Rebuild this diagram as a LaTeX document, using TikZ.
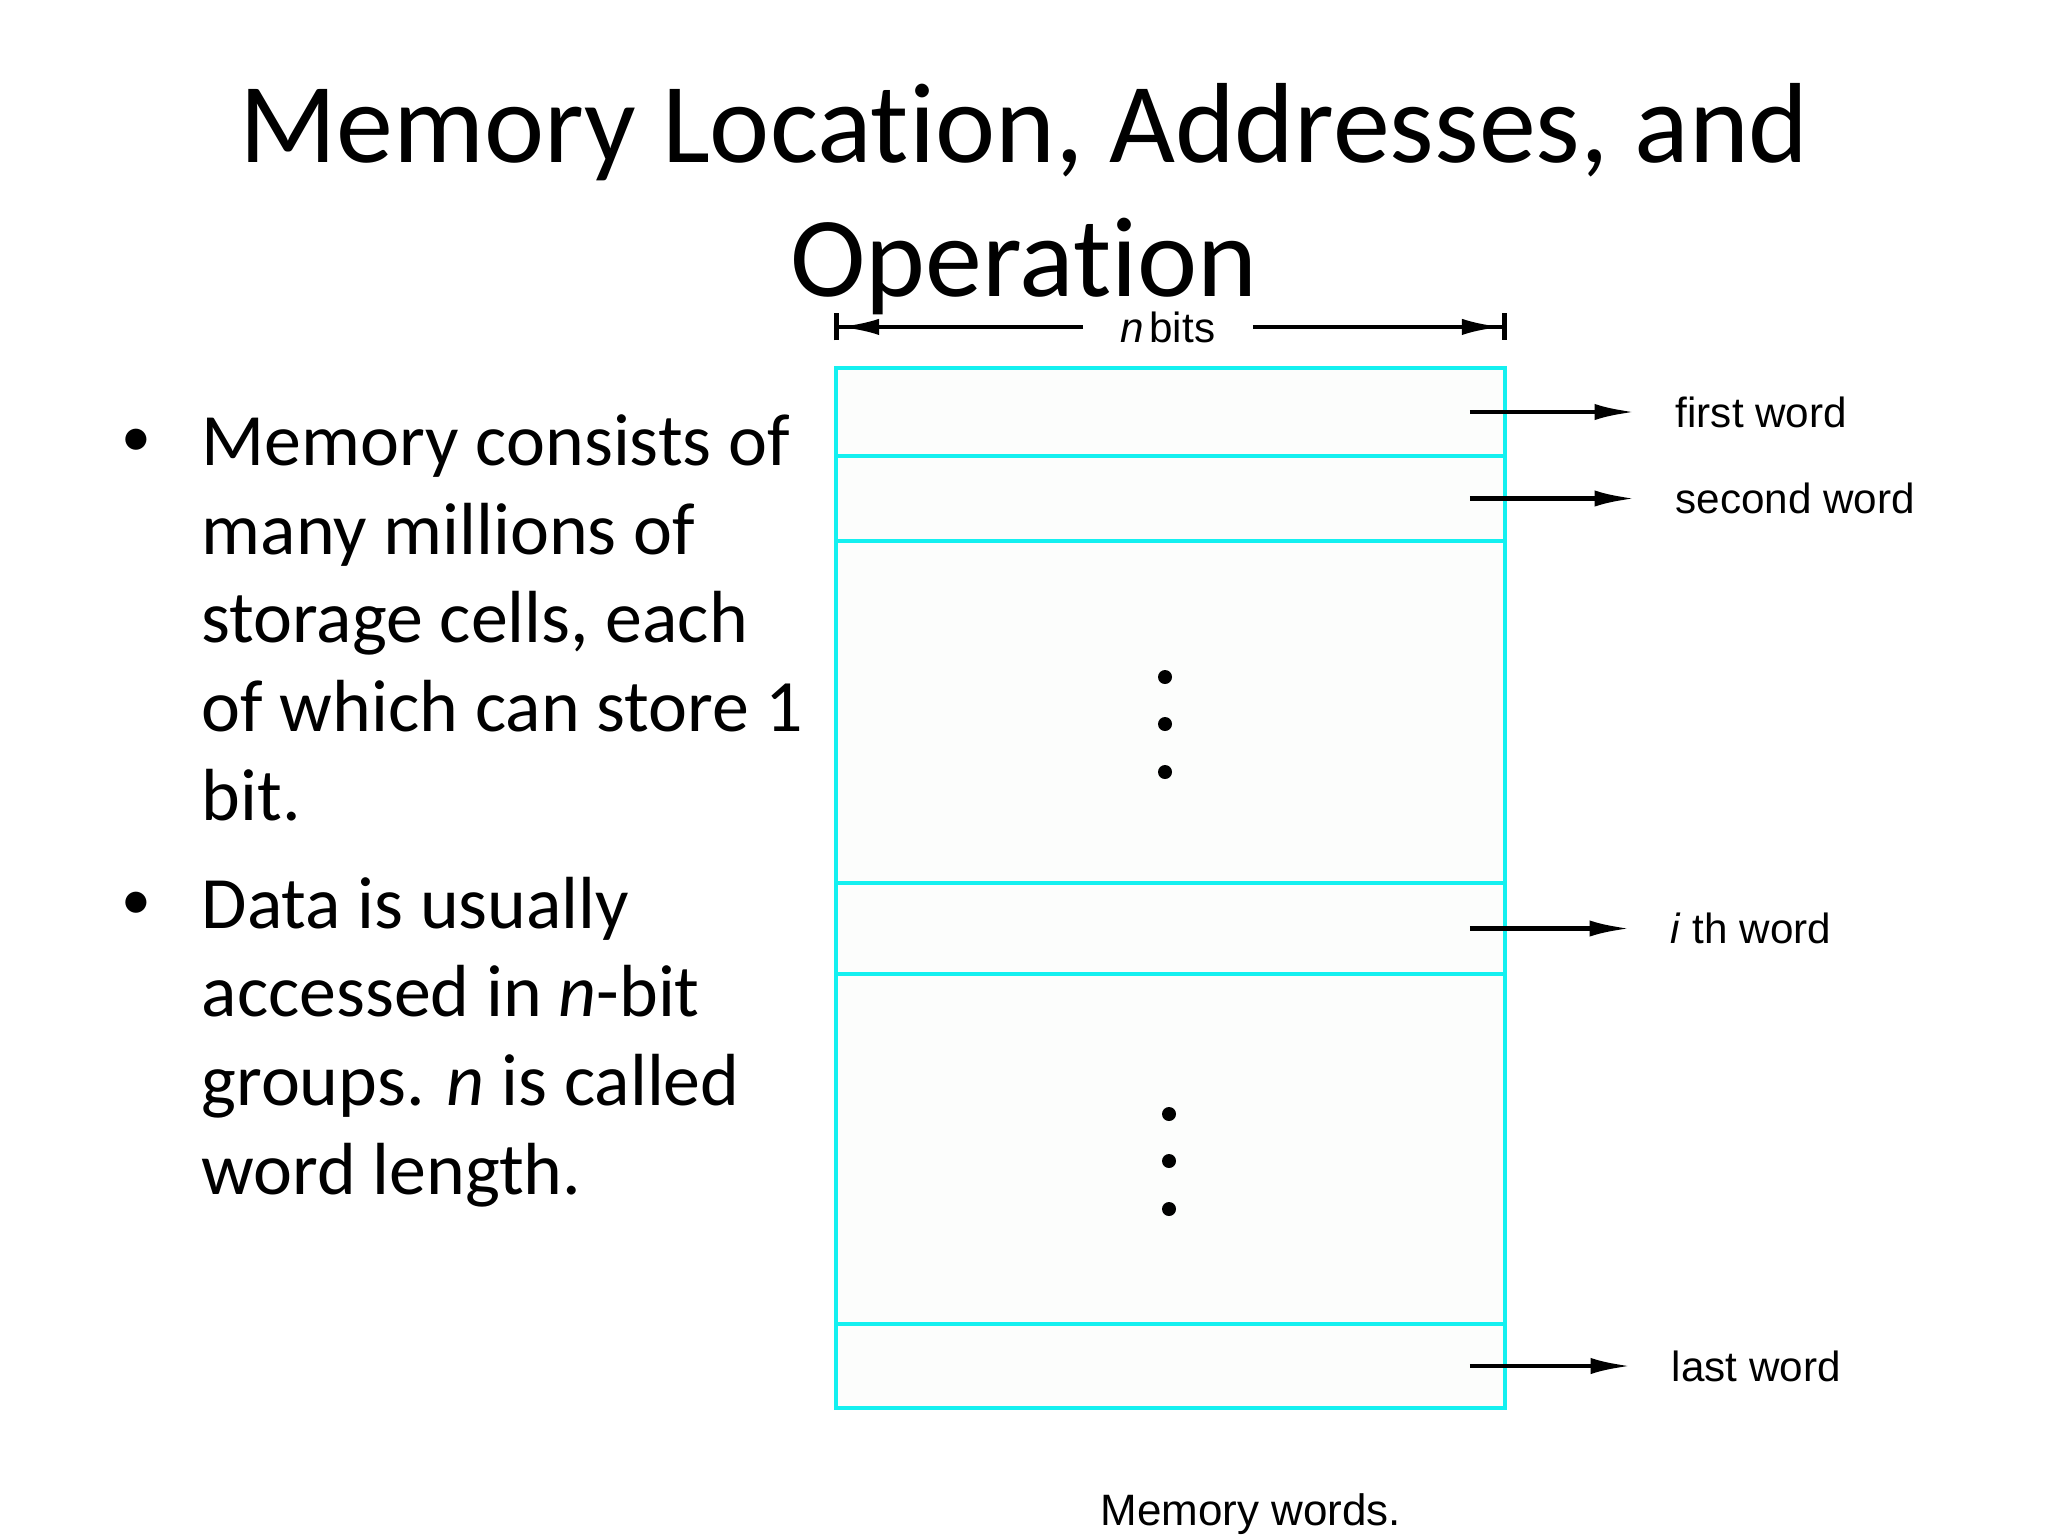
\documentclass[tikz,border=0pt]{standalone}
\usepackage{fontspec}
\setmainfont{Carlito}[Ligatures=NoCommon]
\newfontfamily\labelfont{Liberation Sans}[Ligatures=NoCommon]
\usetikzlibrary{positioning,fit,arrows.meta}

\definecolor{cellcyan}{RGB}{20,240,240}
\definecolor{cellfill}{RGB}{252,253,252}

\tikzset{
  cell/.style={draw=cellcyan, line width=1.1pt, fill=cellfill, inner sep=0pt},
  wlabel/.style={font=\labelfont\fontsize{12}{14}\selectfont, inner sep=0pt},
  ptr/.style={-{Latex[length=11.5pt,width=4.6pt]}, line width=1.3pt, shorten >=0.40cm},
  span/.style={-{Latex[length=11.5pt,width=4.6pt]Bar[width=7.7pt]}, line width=1.3pt, shorten <=0.37cm},
  bulletbody/.style={font=\fontsize{21}{25.2}\selectfont, align=left, inner sep=0pt, anchor=base west},
  bulletdot/.style={font=\fontsize{17}{20}\selectfont, inner sep=0pt, anchor=base},
}

\begin{document}
\begin{tikzpicture}[x=0.01cm, y=-0.01cm]
  \fill[white] (0,0) rectangle (2048,1536);
  \useasboundingbox (0,0) rectangle (2048,1536);

  % title
  \node[font=\fontsize{32.4}{38}\selectfont, align=center, anchor=base, inner sep=0pt] (title) at (1024,296)
    {Memory Location, Addresses, and\\Operation};

  % bullet text
  \node[bulletdot] (d1) at (136,456) {\textbullet};
  \node[bulletbody] (b1) at (201,820) {Memory consists of\\many millions of\\storage cells, each\\of which can store 1\\bit.};
  \node[bulletdot] (d2) at (136,919) {\textbullet};
  \node[bulletbody] (b2) at (201,1194) {Data is usually\\accessed in \textit{n}-bit\\groups. \textit{n} is called\\word length.};

  % memory rows
  \foreach \top/\bot/\name in {368/456/r1, 456/541/r2, 541/883/g1, 883/974/ri, 974/1324/g2, 1324/1408/rl}
    \node[cell, fit={(836,\top) (1505,\bot)}] (\name) {};

  \foreach \y in {677,724,772} \fill (1165,\y) circle[radius=0.07cm];
  \foreach \y in {1114,1161,1209} \fill (1169,\y) circle[radius=0.07cm];

  % n bits
  \node[wlabel, anchor=base] (nb) at (1168,342) {\textit{n}\hspace{0.12em}bits};
  \draw[span] (nb) -- (nb -| r1.north west);
  \draw[span] (nb) -- (nb -| r1.north east);

  % word labels
  \node[wlabel, right=1.68cm of r1] (w1) {first word};
  \node[wlabel, right=1.68cm of r2] (w2) {second word};
  \node[wlabel, right=1.63cm of ri] (wi) {\textit{i} th word};
  \node[wlabel, right=1.64cm of rl] (wl) {last word};
  \draw[ptr] ([xshift=-0.37cm]r1.east) -- (w1);
  \draw[ptr] ([xshift=-0.37cm]r2.east) -- (w2);
  \draw[ptr] ([xshift=-0.37cm]ri.east) -- (wi);
  \draw[ptr] ([xshift=-0.37cm]rl.east) -- (wl);

  \node[wlabel, font=\labelfont\fontsize{12.5}{15}\selectfont, anchor=base] (cap) at (1251,1525) {Memory words.};

\end{tikzpicture}
\end{document}
